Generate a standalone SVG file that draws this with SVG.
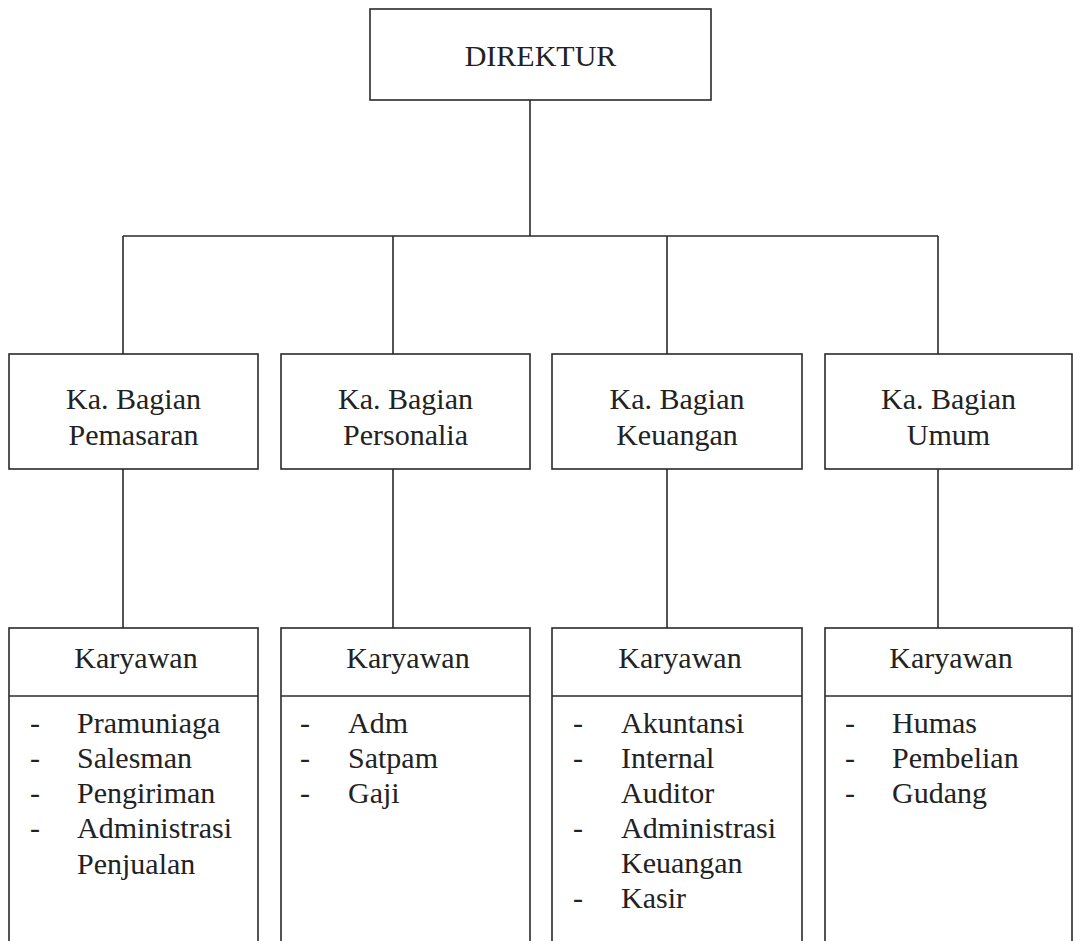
<svg xmlns="http://www.w3.org/2000/svg" width="1073" height="941" viewBox="0 0 1073 941">
<style>
.box{fill:#fff;stroke:#2a2a2a;stroke-width:1.6}
.ln{fill:none;stroke:#2a2a2a;stroke-width:1.6}
text{font-family:"Liberation Serif","Times New Roman",serif;fill:#222;font-size:30px}
.c{text-anchor:middle}
.d{text-anchor:middle}
</style>
<rect width="1073" height="941" fill="#fff"/>
<g id="connectors">
<path class="ln" d="M530 100V236M123 236H938M123 236V354M393 236V354M667 236V354M938 236V354M123 469V628M393 469V628M667 469V628M938 469V628"/>
</g>
<g id="direktur">
<rect class="box" x="370" y="9" width="341" height="91"/>
<text class="c" x="540.5" y="66">DIREKTUR</text>
</g>
<g id="pemasaran">
<rect class="box" x="9" y="354" width="249" height="115"/>
<text class="c" x="133.5" y="409">Ka. Bagian</text>
<text class="c" x="133.5" y="445">Pemasaran</text>
</g>
<g id="personalia">
<rect class="box" x="281" y="354" width="249" height="115"/>
<text class="c" x="405.5" y="409">Ka. Bagian</text>
<text class="c" x="405.5" y="445">Personalia</text>
</g>
<g id="keuangan">
<rect class="box" x="552" y="354" width="250" height="115"/>
<text class="c" x="677" y="409">Ka. Bagian</text>
<text class="c" x="677" y="445">Keuangan</text>
</g>
<g id="umum">
<rect class="box" x="825" y="354" width="247" height="115"/>
<text class="c" x="948.5" y="409">Ka. Bagian</text>
<text class="c" x="948.5" y="445">Umum</text>
</g>
<g id="karyawan-pemasaran">
<rect class="box" x="9" y="628" width="249" height="320"/>
<line class="ln" x1="9" y1="696" x2="258" y2="696"/>
<text class="c" x="136" y="668">Karyawan</text>
<text class="d" x="35" y="733">-</text><text x="77" y="733">Pramuniaga</text>
<text class="d" x="35" y="768">-</text><text x="77" y="768">Salesman</text>
<text class="d" x="35" y="803">-</text><text x="77" y="803">Pengiriman</text>
<text class="d" x="35" y="838">-</text><text x="77" y="838">Administrasi</text>
<text x="77" y="874">Penjualan</text>
</g>
<g id="karyawan-personalia">
<rect class="box" x="281" y="628" width="249" height="320"/>
<line class="ln" x1="281" y1="696" x2="530" y2="696"/>
<text class="c" x="408" y="668">Karyawan</text>
<text class="d" x="305" y="733">-</text><text x="348" y="733">Adm</text>
<text class="d" x="305" y="768">-</text><text x="348" y="768">Satpam</text>
<text class="d" x="305" y="803">-</text><text x="348" y="803">Gaji</text>
</g>
<g id="karyawan-keuangan">
<rect class="box" x="552" y="628" width="250" height="320"/>
<line class="ln" x1="552" y1="696" x2="802" y2="696"/>
<text class="c" x="680" y="668">Karyawan</text>
<text class="d" x="578" y="733">-</text><text x="621" y="733">Akuntansi</text>
<text class="d" x="578" y="768">-</text><text x="621" y="768">Internal</text>
<text x="621" y="803">Auditor</text>
<text class="d" x="578" y="838">-</text><text x="621" y="838">Administrasi</text>
<text x="621" y="873">Keuangan</text>
<text class="d" x="578" y="908">-</text><text x="621" y="908">Kasir</text>
</g>
<g id="karyawan-umum">
<rect class="box" x="825" y="628" width="247" height="320"/>
<line class="ln" x1="825" y1="696" x2="1072" y2="696"/>
<text class="c" x="951" y="668">Karyawan</text>
<text class="d" x="850" y="733">-</text><text x="892" y="733">Humas</text>
<text class="d" x="850" y="768">-</text><text x="892" y="768">Pembelian</text>
<text class="d" x="850" y="803">-</text><text x="892" y="803">Gudang</text>
</g>
</svg>
